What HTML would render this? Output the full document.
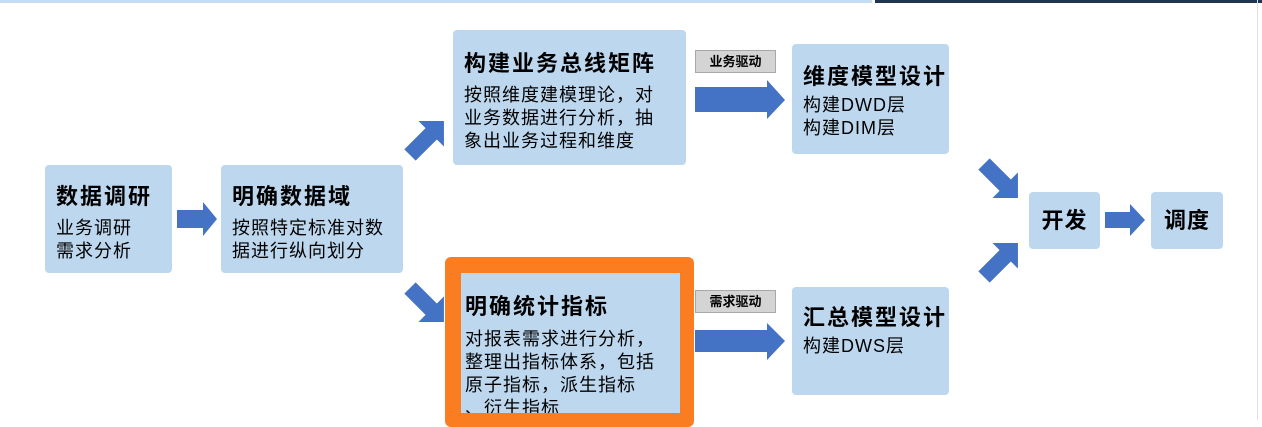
<!DOCTYPE html>
<html><head><meta charset="utf-8"><style>
body{margin:0;width:1262px;height:420px;background:#fff;position:relative;overflow:hidden;font-family:"Liberation Sans","Noto Sans CJK SC",sans-serif;color:#000}
.b{position:absolute;background:#bdd7ee;border-radius:4px;box-sizing:border-box;white-space:nowrap}
.t{font-weight:bold;font-size:22px;line-height:28px;letter-spacing:2px}
.d{font-size:18px;line-height:23px;letter-spacing:1px}
.lab{position:absolute;background:#d4d4d4;border:1px solid #a8a8a8;font-size:13px;font-weight:bold;text-align:center;line-height:21px;box-sizing:border-box}
svg{position:absolute;left:0;top:0}
</style></head><body>
<div style="position:absolute;left:0;top:0;width:872px;height:3px;background:#c5dcf5"></div>
<div style="position:absolute;left:875px;top:0;width:387px;height:3px;background:#1f3550"></div>
<div style="position:absolute;left:1257px;top:0;width:1px;height:420px;background:#e0e0e0"></div>

<div class="b" style="left:45px;top:165px;width:127px;height:108px;padding:18px 0 0 11px"><div class="t">数据调研</div><div class="d" style="margin-top:6px">业务调研<br>需求分析</div></div>
<div class="b" style="left:221px;top:165px;width:182px;height:108px;padding:18px 0 0 11px"><div class="t">明确数据域</div><div class="d" style="margin-top:6px">按照特定标准对数<br>据进行纵向划分</div></div>
<div class="b" style="left:453px;top:30px;width:233px;height:135px;padding:20px 0 0 11px"><div class="t">构建业务总线矩阵</div><div class="d" style="margin-top:6px">按照维度建模理论，对<br>业务数据进行分析，抽<br>象出业务过程和维度</div></div>
<div style="position:absolute;left:445px;top:257px;width:249px;height:170px;background:#fb7d22;border-radius:6px"></div>
<div class="b" style="left:461px;top:273px;width:219px;height:140px;border-radius:0;padding:20px 0 0 4px;overflow:hidden"><div class="t">明确统计指标</div><div class="d" style="margin-top:7px">对报表需求进行分析，<br>整理出指标体系，包括<br>原子指标，派生指标<br>、衍生指标</div></div>
<div class="b" style="left:792px;top:44px;width:157px;height:110px;padding:19px 0 0 11px"><div class="t">维度模型设计</div><div class="d" style="margin-top:3px">构建DWD层<br>构建DIM层</div></div>
<div class="b" style="left:792px;top:287px;width:157px;height:108px;padding:17px 0 0 11px"><div class="t">汇总模型设计</div><div class="d" style="margin-top:3px">构建DWS层</div></div>
<div class="b" style="left:1029px;top:192px;width:71px;height:57px;padding-top:15px;text-align:center"><div class="t" style="letter-spacing:1px">开发</div></div>
<div class="b" style="left:1151px;top:192px;width:72px;height:57px;padding-top:15px;text-align:center"><div class="t" style="letter-spacing:1px">调度</div></div>
<div class="lab" style="left:695px;top:50px;width:81px;height:23px">业务驱动</div>
<div class="lab" style="left:695px;top:290px;width:81px;height:23px">需求驱动</div>

<svg width="1262" height="420">
<defs><polygon id="a" points="0,-8 30,-8 30,-18 48,0 30,18 30,8 0,8" fill="#4472c4"/></defs>
<g fill="#4472c4">
<polygon points="177,210 203,210 203,202 217,219 203,236 203,228 177,228"/>
<polygon points="695,87 767,87 767,80 785,100 767,119 767,112 695,112"/>
<polygon points="695,330 767,330 767,323 785,341 767,360 767,352 695,352"/>
<polygon points="1105,212 1130,212 1130,204 1145,220 1130,236 1130,228 1105,228"/>
</g>
<use href="#a" transform="translate(410,155) rotate(-45)"/>
<use href="#a" transform="translate(410,288) rotate(45)"/>
<use href="#a" transform="translate(984,164) rotate(45)"/>
<use href="#a" transform="translate(984,277) rotate(-45)"/>
</svg>
</body></html>
